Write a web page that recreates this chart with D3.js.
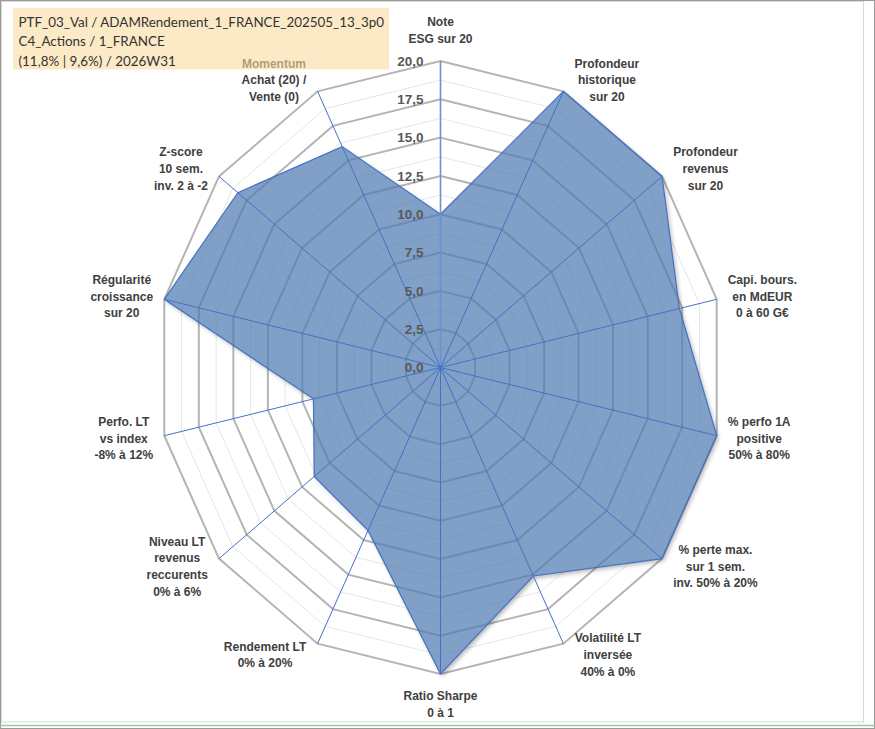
<!DOCTYPE html>
<html>
<head>
<meta charset="utf-8">
<script src="https://cdn.jsdelivr.net/npm/d3@7"></script>
<style>
  body { margin: 0; background: #fff; }
  svg { display: block; }
</style>
</head>
<body>
<div class="canvas"></div>
<script>
'use strict';

// Axis labels, one array of lines per axis (clockwise from the top)
var categories = [
  ['Note', 'ESG sur 20'],
  ['Profondeur', 'historique', 'sur 20'],
  ['Profondeur', 'revenus', 'sur 20'],
  ['Capi. bours.', 'en MdEUR', '0 à 60 G€'],
  ['% perfo 1A', 'positive', '50% à 80%'],
  ['% perte max.', 'sur 1 sem.', 'inv. 50% à 20%'],
  ['Volatilité LT', 'inversée', '40% à 0%'],
  ['Ratio Sharpe', '0 à 1'],
  ['Rendement LT', '0% à 20%'],
  ['Niveau LT', 'revenus', 'reccurents', '0% à 6%'],
  ['Perfo. LT', 'vs index', '-8% à 12%'],
  ['Régularité', 'croissance', 'sur 20'],
  ['Z-score', '10 sem.', 'inv. 2 à -2'],
  ['Momentum', 'Achat (20) /', 'Vente (0)']
];

// Scores on the 0-20 scale, same order as categories
var scores = [10, 20, 20, 17.3, 20, 20, 15.1, 20, 11.8, 11.4, 9.2, 20, 18.3, 16];

// Radial ticks
var majorTicks = [0, 2.5, 5, 7.5, 10, 12.5, 15, 17.5, 20];
var minorTicks = [1.25, 3.75, 6.25, 8.75, 11.25, 13.75, 16.25, 18.75];

// Title box
var titleLines = [
  'PTF_03_Val / ADAMRendement_1_FRANCE_202505_13_3p0',
  'C4_Actions / 1_FRANCE',
  '(11,8% | 9,6%) / 2026W31'
];

var width = 875, height = 729;
var svg = d3.select('.canvas').append('svg').attr('width', width).attr('height', height);

// Frame of the chart area
svg.append('rect').attr('x', 0.5).attr('y', 0.5).attr('width', width - 1).attr('height', height - 1)
  .attr('fill', '#fff').attr('stroke', '#9a9a9a');
svg.append('rect').attr('x', 1.5).attr('y', 1.5).attr('width', 862).attr('height', 720.5)
  .attr('fill', 'none').attr('stroke', '#d9d9d9');
svg.append('line').attr('x1', 0).attr('x2', width).attr('y1', 725.5).attr('y2', 725.5)
  .attr('stroke', '#9cc79c').attr('stroke-width', 1.5);

// Radar geometry (the plot is slightly narrower than tall)
var cx = 440.5, cy = 367.5, rx = 283.3, ry = 306.5;
var r = d3.scaleLinear().domain([0, 20]).range([0, 1]);
var angle = d3.scaleLinear().domain([0, categories.length]).range([0, 2 * Math.PI]);

function pt(i, v) {
  var a = angle(i);
  return [cx + rx * r(v) * Math.sin(a), cy - ry * r(v) * Math.cos(a)];
}
function ring(v) {
  return categories.map(function (d, i) { return pt(i, v); });
}
var radarLine = d3.line().curve(d3.curveLinearClosed);

var locale = d3.formatLocale({ decimal: ',', thousands: ' ', grouping: [3], currency: ['', ' €'] });
var fmt = locale.format('.1f');

// Grid rings
var grid = svg.append('g');
grid.selectAll('path.minor').data(minorTicks).enter().append('path')
  .attr('class', 'minor')
  .attr('d', function (d) { return radarLine(ring(d)); })
  .attr('fill', 'none').attr('stroke', '#e6e6e6').attr('stroke-width', 1);
grid.selectAll('path.major').data(majorTicks.filter(function (d) { return d > 0; })).enter().append('path')
  .attr('class', 'major')
  .attr('d', function (d) { return radarLine(ring(d)); })
  .attr('fill', 'none').attr('stroke', '#b4b4b4').attr('stroke-width', 2);

// Series polygon with a soft shadow outside it
var seriesPts = scores.map(function (v, i) { return pt(i, v); });
var defs = svg.append('defs');
defs.append('filter').attr('id', 'blur').attr('x', '-10%').attr('y', '-10%').attr('width', '120%').attr('height', '120%')
  .append('feGaussianBlur').attr('stdDeviation', 2.2);
var mask = defs.append('mask').attr('id', 'outside');
mask.append('rect').attr('width', width).attr('height', height).attr('fill', '#fff');
mask.append('path').attr('d', radarLine(seriesPts)).attr('fill', '#000');

svg.append('g').attr('mask', 'url(#outside)')
  .append('path')
  .attr('d', radarLine(seriesPts))
  .attr('transform', 'translate(2,2.5)')
  .attr('fill', '#000').attr('opacity', 0.28)
  .attr('filter', 'url(#blur)');

svg.append('path')
  .attr('d', radarLine(seriesPts))
  .attr('fill', '#4f7bb2').attr('fill-opacity', 0.72)
  .attr('stroke', '#4472c4').attr('stroke-width', 1.2).attr('stroke-linejoin', 'miter');

// Spokes
svg.append('g').selectAll('line').data(categories).enter().append('line')
  .attr('x1', cx).attr('y1', cy)
  .attr('x2', function (d, i) { return pt(i, 20)[0]; })
  .attr('y2', function (d, i) { return pt(i, 20)[1]; })
  .attr('stroke', function (d, i) { return i === 0 ? '#6d8fd0' : '#4472c4'; })
  .attr('stroke-width', function (d, i) { return i === 0 ? 1.6 : 1; });

// Radial tick labels
svg.append('g').selectAll('text').data(majorTicks).enter().append('text')
  .attr('x', cx - 17)
  .attr('y', function (d) { return cy - ry * r(d); })
  .attr('dy', '0.36em')
  .attr('text-anchor', 'end')
  .attr('font-family', '"Liberation Sans", Arial, sans-serif')
  .attr('font-weight', 'bold').attr('font-size', 13.5)
  .attr('fill', '#595959')
  .text(function (d) { return fmt(d); });

// Category labels
var lineH = 16.7, gap = 11;
var labels = svg.append('g')
  .attr('font-family', '"Liberation Sans", Arial, sans-serif')
  .attr('font-weight', 'bold').attr('font-size', 12).attr('fill', '#404040');

categories.forEach(function (lines, i) {
  var a = angle(i), s = Math.sin(a), c = Math.cos(a);
  var tip = pt(i, 20);
  var g = labels.append('g');
  var t = g.append('text').attr('text-anchor', 'middle');
  lines.forEach(function (l, j) {
    t.append('tspan').attr('x', 0).attr('y', j * lineH).attr('dy', '0.35em').text(l);
  });
  var w = t.node().getBBox().width;
  var n = lines.length, gx, gy;
  if (Math.abs(s) < 1e-6) {
    gx = tip[0];
    gy = c > 0 ? tip[1] - 22.3 - (n - 1) * lineH : tip[1] + 21.7;
  } else {
    gx = tip[0] + Math.sign(s) * (gap + w / 2);
    gy = tip[1] - 12.5 * c - (n - 1) * lineH / 2;
  }
  g.attr('transform', 'translate(' + gx + ',' + gy + ')');
});

// Title box, drawn over the chart (slightly see-through)
svg.append('rect').attr('x', 13).attr('y', 8).attr('width', 376).attr('height', 61.5)
  .attr('fill', '#fadca0').attr('fill-opacity', 0.6);
var titleText = svg.append('g')
  .attr('font-family', 'Lato, "Open Sans", sans-serif')
  .attr('font-size', 16).attr('fill', '#333');
var titles = titleText.selectAll('text').data(titleLines).enter().append('text')
  .attr('x', 18.5)
  .attr('y', function (d, i) { return 26.5 + i * 19.5; })
  .text(function (d) { return d; });

// Shrink the title font so the longest line fits inside the box
var longest = d3.max(titles.nodes(), function (n) { return n.getComputedTextLength(); });
var maxW = 366;
if (longest > maxW) titleText.attr('font-size', 16 * maxW / longest);
</script>
</body>
</html>
